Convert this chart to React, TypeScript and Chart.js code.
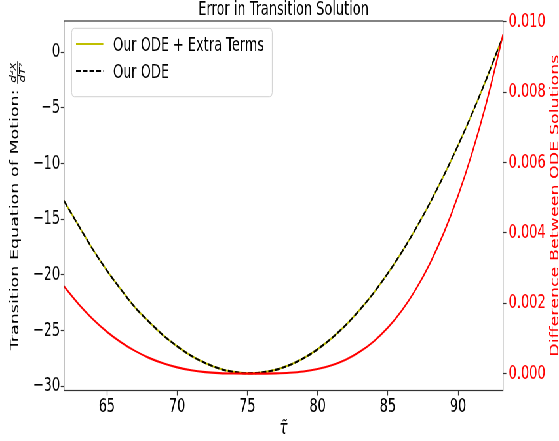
import { useEffect, useRef } from "react";
import { Chart, registerables } from "chart.js";

Chart.register(...registerables);

// ---------- data ----------
const TITLE = "Error in Transition Solution";
const X_LABEL = "\u03C4\u0303";
const Y_LABEL_MAIN = "Transition Equation of Motion: ";
const Y_LABEL_NUM = "d\u00B2X";
const Y_LABEL_DEN = "dT\u00B2";
const Y1_LABEL = "Difference Between ODE Solutions";
const LABEL_EXTRA = "Our ODE + Extra Terms";
const LABEL_ODE = "Our ODE";

const tau = [61.95, 63, 64, 65, 66, 67, 68, 69, 70, 71, 72, 73, 74, 75, 76, 77, 78, 79, 80, 81, 82, 83, 84, 85, 86, 87, 88, 89, 90, 91, 92, 93, 93.2];
const odeExtra = [-13.35, -15.6, -17.7, -19.6, -21.3, -22.9, -24.2, -25.4, -26.4, -27.25, -27.9, -28.4, -28.7, -28.82, -28.76, -28.52, -28.09, -27.47, -26.67, -25.68, -24.5, -23.14, -21.59, -19.85, -17.93, -15.82, -13.52, -11.03, -8.36, -5.5, -2.46, 0.78, 1.39];
const ode = [-13.35, -15.6, -17.7, -19.6, -21.3, -22.9, -24.2, -25.4, -26.4, -27.25, -27.9, -28.4, -28.7, -28.82, -28.76, -28.52, -28.09, -27.47, -26.67, -25.68, -24.5, -23.14, -21.59, -19.85, -17.93, -15.82, -13.52, -11.03, -8.36, -5.5, -2.46, 0.78, 1.39];
const diff = [0.00248, 0.00197, 0.00155, 0.00119, 0.000892, 0.000646, 0.000447, 0.000293, 0.000177, 0.000096, 0.0000435, 0.0000143, 0.0000021, 0.0, 0.0000006, 0.000006, 0.0000234, 0.000061, 0.000129, 0.000237, 0.000396, 0.000619, 0.000917, 0.001305, 0.001794, 0.0024, 0.003135, 0.004015, 0.005053, 0.006272, 0.007675, 0.00929, 0.00964];

const xTicks = [65, 70, 75, 80, 85, 90];
const yTicks = [-30, -25, -20, -15, -10, -5, 0];
const y1Ticks = [0, 0.002, 0.004, 0.006, 0.008, 0.01];

// ---------- layout ----------
const W = 853;
const H = 441;
const SX = 559 / W;
const FONT = '"DejaVu Sans"';
const AXIS_COLOR = "#333";

const annotPlugin = {
  id: "annot",
  afterDraw(chart: any) {
    const { ctx, chartArea: ca } = chart;
    const cx = (ca.left + ca.right) / 2;
    const cy = (ca.top + ca.bottom) / 2;
    ctx.save();
    // frame
    ctx.strokeStyle = AXIS_COLOR;
    ctx.lineWidth = 1.2;
    ctx.strokeRect(ca.left, ca.top, ca.right - ca.left, ca.bottom - ca.top);

    // title
    ctx.fillStyle = "#000";
    ctx.font = `19.7px ${FONT}`;
    ctx.textAlign = "center";
    ctx.textBaseline = "alphabetic";
    ctx.fillText(TITLE, cx, ca.top - 5.7);

    // x label
    ctx.font = `italic 19.7px ${FONT}`;
    ctx.fillText(X_LABEL, cx, ca.bottom + 43.5);

    // left y label with fraction
    ctx.save();
    ctx.translate(27.9, cy);
    ctx.rotate(-Math.PI / 2);
    ctx.font = `17.5px ${FONT}`;
    const wMain = ctx.measureText(Y_LABEL_MAIN).width;
    ctx.font = `italic 12px ${FONT}`;
    const wFrac = Math.max(ctx.measureText(Y_LABEL_NUM).width, ctx.measureText(Y_LABEL_DEN).width) + 2;
    const x0 = -(wMain + wFrac) / 2;
    ctx.font = `17.5px ${FONT}`;
    ctx.textAlign = "left";
    ctx.fillStyle = "#000";
    ctx.fillText(Y_LABEL_MAIN, x0, 0);
    const fx = x0 + wMain;
    ctx.fillRect(fx, -1.6, wFrac, 1);
    ctx.font = `italic 12px ${FONT}`;
    ctx.textAlign = "center";
    ctx.fillText(Y_LABEL_NUM, fx + wFrac / 2, -3.6);
    ctx.fillText(Y_LABEL_DEN, fx + wFrac / 2, 10);
    ctx.restore();

    // right y label
    ctx.save();
    ctx.translate(W - 1, cy);
    ctx.rotate(-Math.PI / 2);
    ctx.font = `17.5px ${FONT}`;
    ctx.textAlign = "center";
    ctx.fillStyle = "#ff0000";
    ctx.fillText(Y1_LABEL, 0, 0);
    ctx.restore();

    // legend
    const lx = ca.left + 11.7;
    const ly = ca.top + 7.3;
    const lw = 306;
    const lh = 68.4;
    ctx.beginPath();
    if ((ctx as any).roundRect) (ctx as any).roundRect(lx, ly, lw, lh, 4);
    else ctx.rect(lx, ly, lw, lh);
    ctx.fillStyle = "rgba(255,255,255,0.85)";
    ctx.fill();
    ctx.strokeStyle = "#d0d0d0";
    ctx.lineWidth = 1;
    ctx.stroke();

    const entries = [
      { ds: chart.data.datasets[2], y: ca.top + 23 },
      { ds: chart.data.datasets[1], y: ca.top + 50 },
    ];
    ctx.font = `19.7px ${FONT}`;
    ctx.textAlign = "left";
    ctx.textBaseline = "alphabetic";
    for (const e of entries) {
      ctx.beginPath();
      ctx.strokeStyle = e.ds.borderColor;
      ctx.lineWidth = 2;
      ctx.setLineDash(e.ds.borderDash || []);
      ctx.moveTo(ca.left + 18.3, e.y);
      ctx.lineTo(ca.left + 59.9, e.y);
      ctx.stroke();
      ctx.setLineDash([]);
      ctx.fillStyle = "#000";
      ctx.fillText(e.ds.label, ca.left + 74.7, e.y + 7.2);
    }
    ctx.restore();
  },
};

export default function App() {
  const ref = useRef<HTMLCanvasElement | null>(null);

  useEffect(() => {
    if (!ref.current) return;
    const pts = (ys: number[]) => tau.map((t, i) => ({ x: t, y: ys[i] }));
    const tickFont = { family: "DejaVu Sans", size: 19.7 };
    const chart = new Chart(ref.current, {
      type: "line",
      data: {
        datasets: [
          {
            label: Y1_LABEL,
            data: pts(diff),
            yAxisID: "y1",
            borderColor: "#ff0000",
            borderWidth: 2.1,
            pointRadius: 0,
            cubicInterpolationMode: "monotone",
            order: 0,
          },
          {
            label: LABEL_ODE,
            data: pts(ode),
            yAxisID: "y",
            borderColor: "#000000",
            borderWidth: 2.1,
            borderDash: [7.2, 3.1],
            pointRadius: 0,
            cubicInterpolationMode: "monotone",
            order: 1,
          },
          {
            label: LABEL_EXTRA,
            data: pts(odeExtra),
            yAxisID: "y",
            borderColor: "#bfbf00",
            borderWidth: 2.1,
            pointRadius: 0,
            cubicInterpolationMode: "monotone",
            order: 2,
          },
        ],
      } as any,
      options: {
        animation: false,
        responsive: false,
        devicePixelRatio: 1,
        layout: { padding: { top: 21, left: 0, right: 0, bottom: 0 } },
        plugins: { legend: { display: false }, title: { display: false }, tooltip: { enabled: false } },
        scales: {
          x: {
            type: "linear",
            position: "bottom",
            min: 61.95,
            max: 93.2,
            afterBuildTicks: (s: any) => { s.ticks = xTicks.map((v) => ({ value: v })); },
            afterFit: (s: any) => { s.height = 50.5; },
            ticks: { font: tickFont, color: "#000", padding: 0, autoSkip: false, maxRotation: 0 },
            grid: { drawOnChartArea: false, drawTicks: true, tickLength: 5, tickColor: AXIS_COLOR, tickWidth: 1.2 },
            border: { display: false },
          },
          y: {
            type: "linear",
            position: "left",
            min: -30.37,
            max: 2.8,
            afterBuildTicks: (s: any) => { s.ticks = yTicks.map((v) => ({ value: v })); },
            afterFit: (s: any) => { s.width = 97.7; },
            ticks: {
              font: tickFont,
              color: "#000",
              padding: 1,
              autoSkip: false,
              callback: (v: any) => (Number(v) < 0 ? "\u2212" + Math.abs(Number(v)) : String(v)),
            },
            grid: { drawOnChartArea: false, drawTicks: true, tickLength: 5, tickColor: AXIS_COLOR, tickWidth: 1.2 },
            border: { display: false },
          },
          y1: {
            type: "linear",
            position: "right",
            min: -0.00048,
            max: 0.01002,
            afterBuildTicks: (s: any) => { s.ticks = y1Ticks.map((v) => ({ value: v })); },
            afterFit: (s: any) => { s.width = W - 767.6; },
            ticks: {
              font: tickFont,
              color: "#ff0000",
              padding: 3.5,
              autoSkip: false,
              callback: (v: any) => Number(v).toFixed(3),
            },
            grid: { drawOnChartArea: false, drawTicks: true, tickLength: 5, tickColor: AXIS_COLOR, tickWidth: 1.2 },
            border: { display: false },
          },
        },
      } as any,
      plugins: [annotPlugin],
    });
    return () => chart.destroy();
  }, []);

  return (
    <div
      style={{
        position: "fixed",
        left: 0,
        top: 0,
        width: W,
        height: H,
        transform: `scaleX(${SX})`,
        transformOrigin: "0 0",
        background: "#fff",
      }}
    >
      <canvas ref={ref} width={W} height={H} style={{ display: "block", width: W, height: H }} />
    </div>
  );
}
